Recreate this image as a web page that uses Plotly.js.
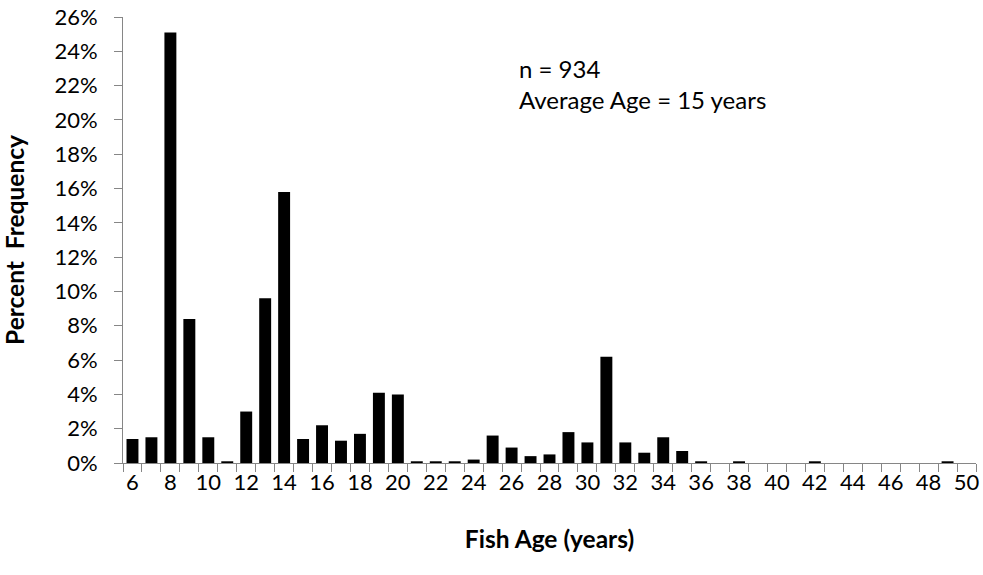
<!DOCTYPE html>
<html>
<head>
<meta charset="utf-8">
<script src="https://cdn.plot.ly/plotly-3.0.1.min.js"></script>
<style>html,body{margin:0;padding:0;background:#fff;}#chart{width:983px;height:575px;}</style>
</head>
<body>
<div id="chart"></div>
<script>
// Fish age (years)
var ages = [6,7,8,9,10,11,12,13,14,15,16,17,18,19,20,21,22,23,24,25,26,27,28,29,30,31,32,33,34,35,36,37,38,39,40,41,42,43,44,45,46,47,48,49,50];
// Percent frequency (%)
var percentFrequency = [1.4,1.5,25.1,8.4,1.5,0.1,3.0,9.6,15.8,1.4,2.2,1.3,1.7,4.1,4.0,0.1,0.1,0.1,0.2,1.6,0.9,0.4,0.5,1.8,1.2,6.2,1.2,0.6,1.5,0.7,0.1,0,0.1,0,0,0,0.1,0,0,0,0,0,0,0.1,0];
var xTickVals = [6,8,10,12,14,16,18,20,22,24,26,28,30,32,34,36,38,40,42,44,46,48,50];
var xTickText = ["6","8","10","12","14","16","18","20","22","24","26","28","30","32","34","36","38","40","42","44","46","48","50"];
var annotationLines = ["n = 934", "Average Age = 15 years"];

var font = "Lato, 'Open Sans', sans-serif";
var axisGray = "#868686";

var trace = {
  type: "bar",
  x: ages,
  y: percentFrequency,
  marker: {color: "#000000", line: {width: 0}},
  hoverinfo: "x+y"
};

var layout = {
  width: 983,
  height: 575,
  margin: {l: 123, r: 7, t: 17, b: 112},
  paper_bgcolor: "#ffffff",
  plot_bgcolor: "#ffffff",
  bargap: 0.37,
  showlegend: false,
  font: {family: font, size: 22, color: "#000000"},
  xaxis: {
    type: "linear",
    range: [5.5, 50.5],
    tickmode: "array",
    tickvals: xTickVals,
    ticktext: xTickText,
    ticks: "",
    showgrid: false,
    zeroline: false,
    showline: true,
    linecolor: axisGray,
    linewidth: 1,
    automargin: false,
    tickfont: {family: font, size: 22, color: "#000000"},
    ticklabelstandoff: 0,
    minor: {tickmode: "linear", tick0: 5.5, dtick: 1, ticks: "outside", ticklen: 8, tickwidth: 1, tickcolor: axisGray, showgrid: false},
    title: {text: "<b>Fish Age (years)</b>", font: {family: font, size: 24.5, color: "#000000"}, standoff: 36}
  },
  yaxis: {
    range: [0, 26],
    dtick: 2,
    ticksuffix: "%",
    ticks: "outside",
    ticklen: 8,
    tickwidth: 1,
    tickcolor: axisGray,
    showgrid: false,
    zeroline: false,
    showline: true,
    linecolor: axisGray,
    linewidth: 1,
    automargin: false,
    tickfont: {family: font, size: 22, color: "#000000"},
    ticklabelstandoff: 12,
    title: {text: "<b>Percent&nbsp;&nbsp;Frequency</b>", font: {family: font, size: 24.5, color: "#000000"}, standoff: 22}
  },
  annotations: [{
    xref: "paper", yref: "paper",
    x: (517 - 123) / (983 - 123 - 7), y: 1 - (84 - 17) / (575 - 17 - 112),
    xanchor: "left", yanchor: "middle", align: "left",
    showarrow: false,
    text: annotationLines.join("<br>"),
    font: {family: font, size: 24, color: "#000000"}
  }]
};

Plotly.newPlot("chart", [trace], layout, {displayModeBar: false, staticPlot: true});
</script>
</body>
</html>
